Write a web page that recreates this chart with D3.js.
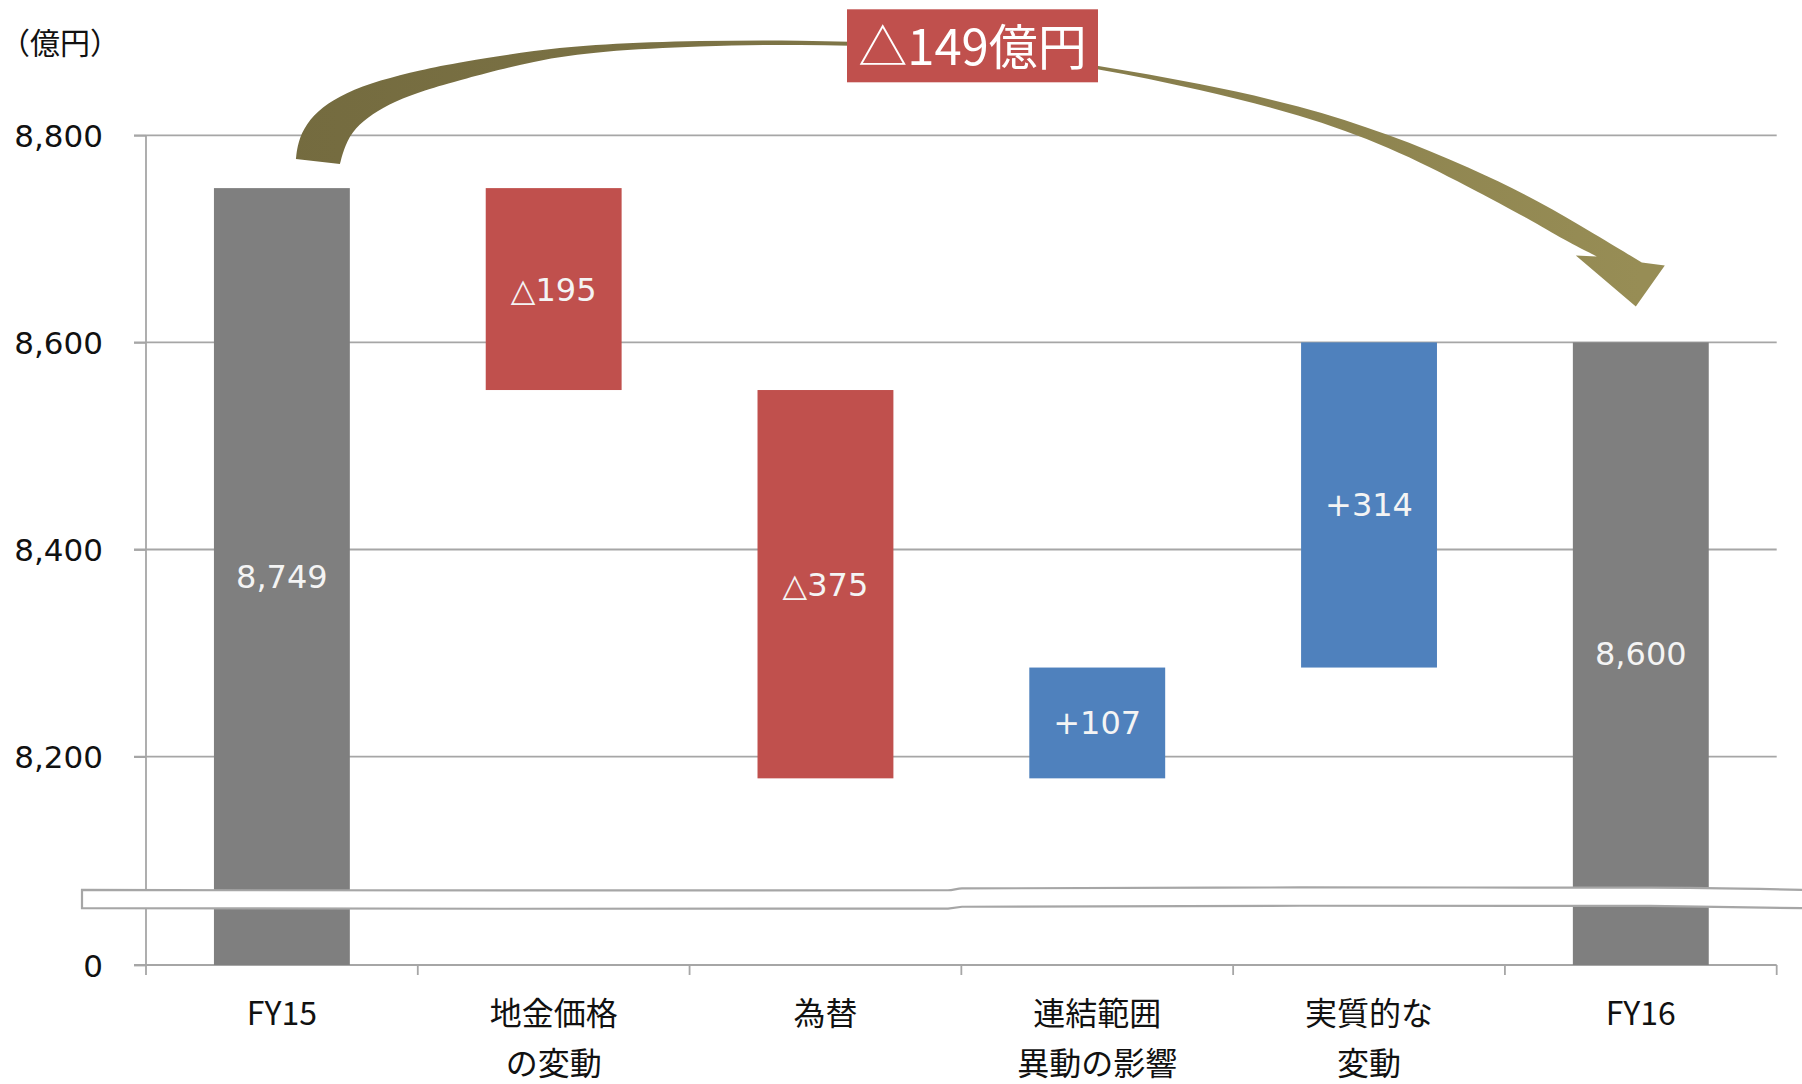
<!DOCTYPE html>
<html>
<head>
<meta charset="utf-8">
<script src="https://cdn.jsdelivr.net/npm/d3@7"></script>
<style>
  html, body { margin: 0; padding: 0; background: #fff; }
  svg { display: block; }
</style>
</head>
<body>
<svg id="chart" width="1802" height="1084"></svg>
<script>
// ---- data ----
const categories = ["FY15", "地金価格\nの変動", "為替", "連結範囲\n異動の影響", "実質的な\n変動", "FY16"];
const kinds = ["total", "delta", "delta", "delta", "delta", "total"];
const values = [8749, -195, -375, 107, 314, 8600];
const yTicks = [0, 8200, 8400, 8600, 8800];
const unitLabel = "（億円）";
const unitSuffix = "億円";
const breakValue = 8063;   // value where the axis is broken

// ---- styles ----
const colors = { total: "#7f7f7f", down: "#c0504d", up: "#4f81bd" };
const gridColor = "#a6a6a6";
const numFont = "'DejaVu Sans', Verdana, sans-serif";
const jpFont = "'Noto Sans CJK JP', 'Noto Sans', sans-serif";

// ---- layout ----
const plot = { left: 146, right: 1776.7, top: 135.3, bottom: 965 };

const svg = d3.select("#chart");

// x: one band per step, bars take half of each slot
const x = d3.scaleBand()
  .domain(categories)
  .range([plot.left, plot.right])
  .paddingInner(0.5)
  .paddingOuter(0.25);

// y: broken axis – linear above the break, compressed from 0 up to the break
const yUpper = d3.scaleLinear().domain([8200, 8800]).range([756.6, plot.top]);
const y = d3.scaleLinear()
  .domain([0, breakValue, 8800])
  .range([plot.bottom, yUpper(breakValue), plot.top]);

// ---- waterfall steps ----
let running = 0;
const steps = values.map((v, i) => {
  if (kinds[i] === "total") {
    running = v;
    return { cat: categories[i], y0: 0, y1: v, v, kind: "total" };
  }
  const start = running;
  running += v;
  return { cat: categories[i], y0: Math.min(start, running), y1: Math.max(start, running), v, kind: v < 0 ? "down" : "up" };
});
const fmt = d3.format(",");
const labelOf = d => d.kind === "total" ? fmt(d.v) : (d.v < 0 ? "△" + Math.abs(d.v) : "+" + d.v);

// ---- gridlines ----
svg.append("g").selectAll("line")
  .data(yTicks)
  .join("line")
  .attr("x1", plot.left - 12).attr("x2", plot.right)
  .attr("y1", d => y(d)).attr("y2", d => y(d))
  .attr("stroke", gridColor).attr("stroke-width", 1.8);

// ---- bars ----
svg.append("g").selectAll("rect")
  .data(steps)
  .join("rect")
  .attr("x", d => x(d.cat))
  .attr("width", x.bandwidth())
  .attr("y", d => y(d.y1))
  .attr("height", d => y(d.y0) - y(d.y1))
  .attr("fill", d => colors[d.kind]);

// ---- y axis ----
const yAxis = d3.axisLeft(y)
  .tickValues(yTicks)
  .tickSize(12)
  .tickSizeOuter(0)
  .tickPadding(31)
  .tickFormat(fmt);
const gy = svg.append("g").attr("transform", `translate(${plot.left},0)`).call(yAxis);
gy.select(".domain").remove();
gy.selectAll(".tick line").attr("stroke", gridColor).attr("stroke-width", 1.8);
gy.selectAll(".tick text")
  .attr("font-family", numFont).attr("font-size", 31).attr("fill", "#111")
  .attr("dy", "0.36em");
svg.append("line")
  .attr("x1", plot.left).attr("x2", plot.left)
  .attr("y1", plot.top).attr("y2", y(0) + 10)
  .attr("stroke", gridColor).attr("stroke-width", 1.8);

// ---- category ticks at slot boundaries ----
const bounds = categories.map(c => x(c) - x.step() * x.paddingInner() / 2).concat([plot.right]);
svg.append("g").selectAll("line")
  .data(bounds.slice(1))
  .join("line")
  .attr("x1", d => d).attr("x2", d => d)
  .attr("y1", y(0)).attr("y2", y(0) + 10)
  .attr("stroke", gridColor).attr("stroke-width", 1.8);

// ---- category labels ----
const catG = svg.append("g")
  .attr("font-family", jpFont).attr("font-size", 32).attr("fill", "#111")
  .attr("text-anchor", "middle");
categories.forEach(c => {
  const cx = x(c) + x.bandwidth() / 2;
  const t = catG.append("text").attr("x", cx);
  c.split("\n").forEach((line, k) => {
    t.append("tspan").attr("x", cx).attr("y", 1025 + k * 50).text(line);
  });
});

// ---- axis break band ----
const bc = y(breakValue);
const topEdge = [[82, bc - 8.5], [500, bc - 8], [948, bc - 8.2], [962, bc - 10], [1300, bc - 11], [1650, bc - 10.8], [1810, bc - 8.5]];
const botEdge = topEdge.map(([px, py]) => [px, py + 18.3]).reverse();
const edgeLine = d3.line().curve(d3.curveMonotoneX);
const botPath = d3.line().curve(d3.curveLinear)(botEdge);
svg.append("path")
  .attr("d", edgeLine(topEdge) + botPath.replace(/^M/, "L") + "Z")
  .attr("fill", "#fff")
  .attr("stroke", gridColor).attr("stroke-width", 2.2);

// ---- value labels ----
svg.append("g").selectAll("text")
  .data(steps)
  .join("text")
  .attr("x", d => x(d.cat) + x.bandwidth() / 2)
  .attr("y", d => (y(d.y0) + y(d.y1)) / 2)
  .attr("dy", "0.36em")
  .attr("text-anchor", "middle")
  .attr("font-family", numFont).attr("font-size", 32)
  .attr("fill", "#f4f4f4")
  .text(labelOf);

// ---- curved arrow from the first total to the last ----
const first = steps[0], last = steps[steps.length - 1];
const S = [x(first.cat) + x.bandwidth() / 2, y(first.y1)];
const E = [x(last.cat) + x.bandwidth() / 2, y(last.y1)];
const fromS = pts => pts.map(([dx, dy]) => [S[0] + dx, S[1] + dy]);
const fromE = pts => pts.map(([dx, dy]) => [E[0] + dx, E[1] + dy]);

// outer (upper/right) edge, tail to head
const outer = fromS([[14, -29], [16, -46], [24, -64], [40, -81], [63, -95], [98, -108], [138, -118], [178, -126],
                     [254, -138], [318, -144], [418, -147.5], [518, -148], [618, -145], [718, -137]])
  .concat(fromE([[-543, -277], [-441, -259], [-341, -237], [-251, -208], [-171, -175], [-101, -141], [-46, -108], [1, -80]]));
// arrowhead: right barb, tip, left barb, left notch
const head = fromE([[24, -77], [-5, -36], [-65, -87], [-44, -86]]);
// inner (lower/left) edge, head back to tail
const inner = fromE([[-44, -86], [-76, -102], [-111, -123], [-171, -155], [-251, -196], [-341, -228], [-441, -253], [-543, -274]])
  .concat(fromS([[718, -134], [618, -141], [518, -144], [418, -142], [318, -137], [254, -128], [178, -108],
                 [143, -98], [113, -87], [90, -74], [73, -60], [63, -43], [58, -24]]));

const smooth = d3.line().curve(d3.curveBasis);
const arrowD = smooth(outer)
  + head.slice(0, 3).map(p => "L" + p.join(",")).join("")
  + smooth(inner).replace(/^M/, "L")
  + "Z";

const defs = svg.append("defs");
const grad = defs.append("linearGradient")
  .attr("id", "arrowGrad").attr("gradientUnits", "userSpaceOnUse")
  .attr("x1", S[0]).attr("y1", 0).attr("x2", E[0]).attr("y2", 0);
grad.append("stop").attr("offset", 0).attr("stop-color", "#746b3f");
grad.append("stop").attr("offset", 0.45).attr("stop-color", "#7f7648");
grad.append("stop").attr("offset", 1).attr("stop-color", "#978d55");

svg.append("path").attr("d", arrowD).attr("fill", "url(#arrowGrad)");

// ---- total change box ----
const totalChange = values[values.length - 1] - values[0];
const boxText = (totalChange < 0 ? "△" + Math.abs(totalChange) : "+" + totalChange) + unitSuffix;
svg.append("rect")
  .attr("x", 847).attr("y", 9.3).attr("width", 251).attr("height", 73)
  .attr("fill", colors.down);
svg.append("text")
  .attr("x", 847 + 251 / 2).attr("y", 65)
  .attr("text-anchor", "middle")
  .attr("font-family", jpFont).attr("font-size", 49).attr("fill", "#fff")
  .text(boxText);

// ---- unit label ----
svg.append("text")
  .attr("x", 0).attr("y", 54)
  .attr("text-anchor", "start")
  .attr("font-family", jpFont).attr("font-size", 30).attr("fill", "#111")
  .text(unitLabel);
</script>
</body>
</html>
